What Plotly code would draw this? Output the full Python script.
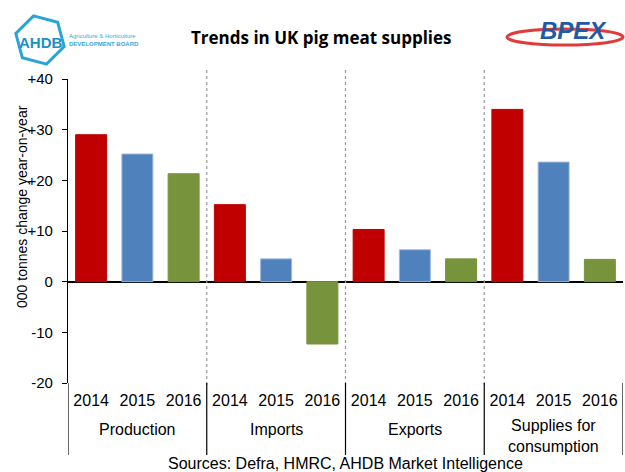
import math
import plotly.graph_objects as go

groups = ["Production", "Imports", "Exports", "Supplies for<br>consumption"]
years = ["2014", "2015", "2016"]
values = {
    "Production": [29.0, 25.2, 21.3],
    "Imports": [15.2, 4.5, -12.3],
    "Exports": [10.3, 6.3, 4.5],
    "Supplies for<br>consumption": [34.0, 23.6, 4.4],
}
year_colors = ["#C00000", "#4F81BD", "#77933C"]
year_lines = ["#C00000", "#9CB9DE", "#77933C"]
ytick_vals = [40, 30, 20, 10, 0, -10, -20]
ytick_text = ["+40", "+30", "+20", "+10", "0", "-10", "-20"]

W, H = 625, 472
ML, MR, MT, MB = 68, 2, 79, 89
PW, PH = W - ML - MR, H - MT - MB


def px_x(p):
    return (p - ML) / PW


def px_y(p):
    return (H - MB - p) / PH


cats, ys, cols, lcols, tlabels = [], [], [], [], []
for g in groups:
    for i, yr in enumerate(years):
        cats.append(g + "|" + yr)
        ys.append(values[g][i])
        cols.append(year_colors[i])
        lcols.append(year_lines[i])
        tlabels.append(yr)

fig = go.Figure()
fig.add_trace(go.Bar(
    x=cats, y=ys, width=0.67,
    marker=dict(color=cols, line=dict(color=lcols, width=1)),
    showlegend=False,
))

FONT = "Liberation Sans, Arial, sans-serif"

shapes = []
n = len(cats)
for k in range(1, len(groups)):
    xpos = k * len(years) - 0.5
    shapes.append(dict(type="line", xref="x", yref="paper", x0=xpos, x1=xpos,
                       y0=px_y(385), y1=px_y(68),
                       line=dict(color="#999999", width=1.2, dash="dot")))
for k in range(0, len(groups) + 1):
    xpos = k * len(years) - 0.5
    shapes.append(dict(type="line", xref="x", yref="paper", x0=xpos, x1=xpos,
                       y0=px_y(455), y1=px_y(383),
                       line=dict(color="#000000", width=1.2)))

# AHDB logo (hexagon outline)
hex_pts = []
for j in range(7):
    a = math.radians(75 + 60 * j)
    hex_pts.append((40 + 25 * math.cos(a), 40 + 25 * math.sin(a)))
path = "M " + " L ".join(f"{px_x(x):.4f},{px_y(y):.4f}" for x, y in hex_pts) + " Z"
shapes.append(dict(type="path", xref="paper", yref="paper", path=path,
                   line=dict(color="#2AA3D6", width=3)))
# BPEX ellipse
shapes.append(dict(type="circle", xref="paper", yref="paper",
                   x0=px_x(507), x1=px_x(623), y0=px_y(45), y1=px_y(29),
                   line=dict(color="#E03A3A", width=3)))


def ann(x, y, text, size, color="#000", family=FONT, xanchor="center", **kw):
    return dict(x=x, y=y, xref="paper", yref="paper", text=text, showarrow=False,
                xanchor=xanchor, yanchor="middle",
                font=dict(family=family, size=size, color=color), **kw)


annotations = []
for g in groups:
    mid = g + "|" + years[1]
    yy = 436 if "<br>" in g else 429
    annotations.append(dict(x=mid, y=px_y(yy), xref="x", yref="paper",
                            text=g, showarrow=False, yanchor="middle",
                            font=dict(family=FONT, size=16, color="#000")))
annotations.append(ann(px_x(345), px_y(463),
                       "Sources: Defra, HMRC, AHDB Market Intelligence", 16))
annotations.append(ann(px_x(321), px_y(38), "<b>Trends in UK pig meat supplies</b>", 17,
                       family="Open Sans, sans-serif"))
annotations.append(ann(px_x(22), px_y(207), "000 tonnes change year-on-year", 14,
                       textangle=-90))
annotations.append(ann(px_x(40), px_y(42), "<b>AHDB</b>", 15, color="#1E8FC6"))
annotations.append(ann(px_x(67), px_y(40),
                       "Agriculture & Horticulture<br><b>DEVELOPMENT BOARD</b>", 6,
                       color="#3BA7D6", xanchor="left", align="left"))
annotations.append(ann(px_x(573), px_y(30), "<b><i>BPEX</i></b>", 24, color="#1F5AA6"))

fig.update_layout(
    width=W, height=H,
    margin=dict(l=ML, r=MR, t=MT, b=MB),
    plot_bgcolor="white", paper_bgcolor="white",
    shapes=shapes, annotations=annotations,
    xaxis=dict(type="category", tickvals=cats, ticktext=tlabels,
               showline=False, showgrid=False, ticks="", zeroline=False,
               range=[-0.5, n - 0.5], ticklabelstandoff=6,
               tickfont=dict(family=FONT, size=16, color="#000")),
    yaxis=dict(range=[-20, 40], tickvals=ytick_vals, ticktext=ytick_text,
               showline=True, linecolor="#000", linewidth=1.2,
               ticks="outside", ticklen=5, tickcolor="#000", tickwidth=1,
               showgrid=False, zeroline=True, zerolinecolor="#000", zerolinewidth=1.5,
               ticklabelstandoff=6,
               tickfont=dict(family=FONT, size=15, color="#000")),
)

fig.write_html("out.html")
